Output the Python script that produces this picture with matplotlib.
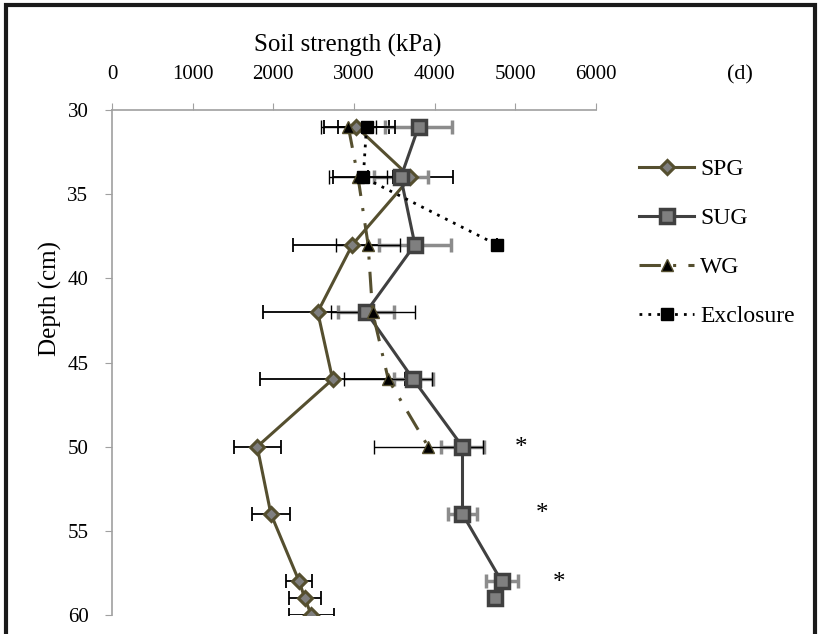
import matplotlib
matplotlib.use("Agg")
import matplotlib.pyplot as plt
from matplotlib.patches import Rectangle

plt.rcParams['font.family'] = ['Liberation Serif', 'DejaVu Serif']

# Depth (cm) and soil strength (kPa) with standard errors
spg_depth = [31, 34, 38, 42, 46, 50, 54, 58, 59, 60]
spg_val = [3030, 3700, 2980, 2550, 2735, 1800, 1970, 2320, 2390, 2470]
spg_err = [400, 530, 740, 675, 900, 290, 240, 160, 197, 280]

sug_depth = [31, 34, 38, 42, 46, 50, 54, 58, 59]
sug_val = [3800, 3580, 3755, 3150, 3735, 4345, 4345, 4830, 4745]
sug_err = [415, 335, 443, 350, 240, 270, 185, 197, 0]

wg_depth = [31, 34, 38, 42, 46, 50]
wg_val = [2930, 3050, 3175, 3230, 3425, 3920]
wg_err = [345, 357, 400, 520, 545, 675]

exc_depth = [31, 34, 38]
exc_val = [3155, 3115, 4770]
exc_err = [358, 373, 0]

star_depth = [50.1, 54.0, 58.1]
star_x = [5075, 5335, 5545]

x_ticks = [0, 1000, 2000, 3000, 4000, 5000, 6000]
y_ticks = [30, 35, 40, 45, 50, 55, 60]

W, H = 819, 634
fig = plt.figure(figsize=(W / 100, H / 100), dpi=100)
ax = fig.add_axes([112 / W, 1 - 615 / H, (596 - 112) / W, (615 - 110) / H])

olive = '#554f2f'
dgray = '#404040'
mgray = '#7f7f7f'
lgray = '#8c8c8c'
fs_tick = 15
fs_title = 18
fs_leg = 17

# error bars first so markers sit on top
ax.errorbar(spg_val, spg_depth, xerr=spg_err, fmt='none', ecolor='black',
            elinewidth=1.3, capsize=5, capthick=1.3, zorder=2)
ax.errorbar(sug_val, sug_depth, xerr=sug_err, fmt='none', ecolor=lgray,
            elinewidth=2.5, capsize=5, capthick=2.5, zorder=2)
ax.errorbar(wg_val, wg_depth, xerr=wg_err, fmt='none', ecolor='black',
            elinewidth=1.0, capsize=5, capthick=1.0, zorder=2)
ax.errorbar(exc_val, exc_depth, xerr=exc_err, fmt='none', ecolor='black',
            elinewidth=1.3, capsize=5, capthick=1.3, zorder=2)

ax.plot(spg_val, spg_depth, color=olive, lw=2.2, marker='D', ms=7.5,
        mfc=mgray, mec=olive, mew=2.2, label='SPG', zorder=4)
ax.plot(sug_val, sug_depth, color=dgray, lw=2.2, marker='s', ms=10,
        mfc=mgray, mec=dgray, mew=2.5, label='SUG', zorder=4)
ax.plot(wg_val, wg_depth, color=olive, lw=2.2, dashes=(7, 4, 1, 4),
        marker='^', ms=8, mfc='black', mec=olive, mew=1.0, label='WG', zorder=5)
ax.plot(exc_val, exc_depth, color='black', lw=2.0, ls=(0, (1, 2.2)),
        marker='s', ms=9, mfc='black', mec='black', label='Exclosure', zorder=5)

for xs, ys in zip(star_x, star_depth):
    ax.text(xs, ys, '*', fontsize=18, ha='center', va='center')

ax.set_xlim(0, 6000)
ax.set_ylim(60, 30)
ax.set_xticks(x_ticks)
ax.set_yticks(y_ticks)
ax.xaxis.tick_top()
ax.tick_params(axis='x', colors='#a0a0a0', labelcolor='black', length=5,
               labelsize=fs_tick, pad=14)
ax.tick_params(axis='y', colors='#a0a0a0', labelcolor='black', length=5,
               labelsize=fs_tick, pad=12)
for s in ['right', 'bottom']:
    ax.spines[s].set_visible(False)
for s in ['top', 'left']:
    ax.spines[s].set_color('#a0a0a0')
    ax.spines[s].set_linewidth(1.2)

ax.set_xlabel('Soil strength (kPa)', fontsize=fs_title)
ax.xaxis.set_label_position('top')
ax.xaxis.set_label_coords((348 - 112) / (596 - 112), 1 + (110 - 45) / (615 - 110))
ax.xaxis.label.set_va('center')
ax.set_ylabel('Depth (cm)', fontsize=fs_title)
ax.yaxis.set_label_coords((50 - 112) / (596 - 112), 1 - (298 - 110) / (615 - 110))
ax.yaxis.label.set_va('center')

fig.text(740 / W, 1 - 75 / H, '(d)', fontsize=16, ha='center', va='center')

leg = ax.legend(loc='upper left', bbox_to_anchor=(627 / W, 1 - 147 / H),
                bbox_transform=fig.transFigure, frameon=False, fontsize=fs_leg,
                handlelength=2.35, handletextpad=0.25, labelspacing=1.16,
                borderpad=0)

# outer frame
fig.patches.append(Rectangle((6 / W, -0.05), (815 - 6) / W, 1.05 - 5 / H,
                             transform=fig.transFigure, fill=False,
                             edgecolor='#1a1a1a', lw=3))

fig.savefig('out.png', dpi=100)
